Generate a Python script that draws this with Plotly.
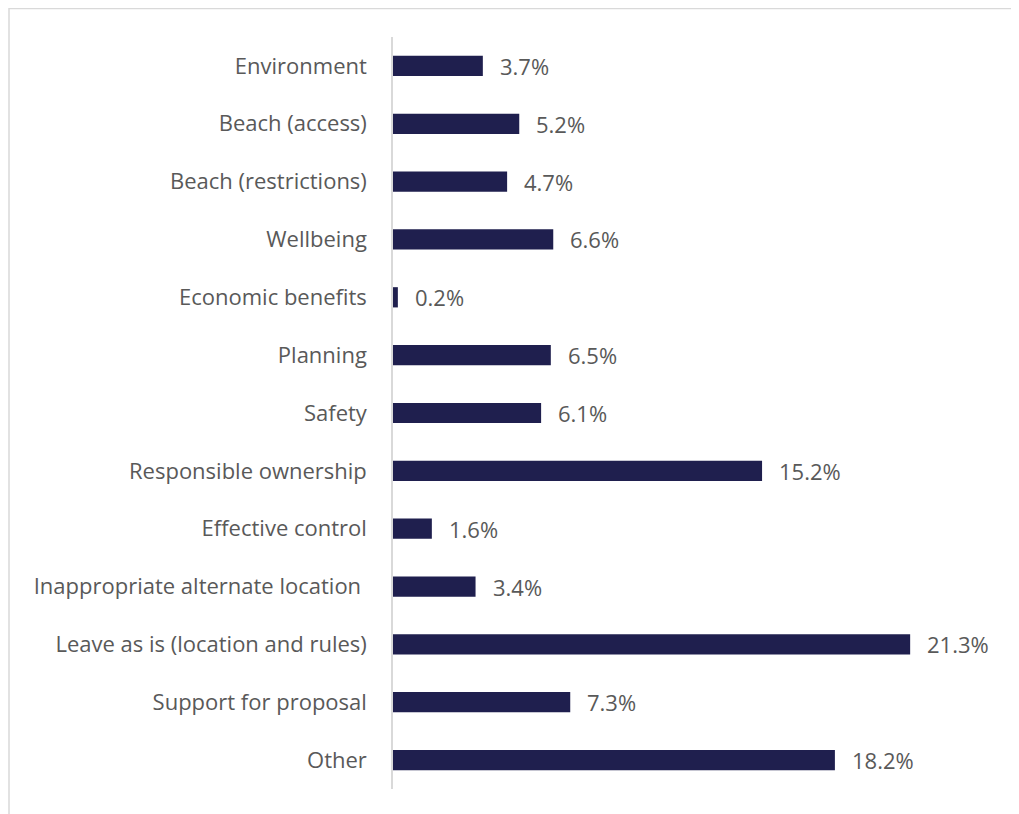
import plotly.graph_objects as go

categories = [
    "Environment",
    "Beach (access)",
    "Beach (restrictions)",
    "Wellbeing",
    "Economic benefits",
    "Planning",
    "Safety",
    "Responsible ownership",
    "Effective control",
    "Inappropriate alternate location\u00a0",
    "Leave as is (location and rules)",
    "Support for proposal",
    "Other",
]
values = [3.7, 5.2, 4.7, 6.6, 0.2, 6.5, 6.1, 15.2, 1.6, 3.4, 21.3, 7.3, 18.2]
labels = [f"{v:.1f}%" for v in values]

bar_color = "#1f1f4e"
text_color = "#595959"
font_family = "Open Sans, Noto Sans, sans-serif"

W, H = 1011, 806
ML, MR, MT, MB = 385, 19, 29, 25
PW, PH = W - ML - MR, H - MT - MB

fig = go.Figure()
fig.add_trace(go.Bar(
    y=categories,
    x=values,
    orientation="h",
    marker=dict(color=bar_color, line=dict(width=0)),
    width=0.35,
    hoverinfo="skip",
))

for c, v, t in zip(categories, values, labels):
    fig.add_annotation(
        x=v, y=c, text=t, showarrow=False, xanchor="left", yanchor="middle",
        xshift=15, font=dict(size=22, color=text_color, family=font_family),
    )

fig.update_layout(
    width=W, height=H,
    margin=dict(l=ML, r=MR, t=MT, b=MB),
    paper_bgcolor="white",
    plot_bgcolor="white",
    showlegend=False,
    font=dict(family=font_family, color=text_color, size=22),
    shapes=[dict(type="rect", xref="paper", yref="paper",
                 x0=-(ML - 1) / PW, x1=1.5, y0=-0.5, y1=1 + (MT - 0.5) / PH,
                 line=dict(color="#d9d9d9", width=1.5), layer="below")],
)
fig.update_xaxes(range=[0, 25], visible=False, fixedrange=True)
fig.update_yaxes(
    autorange="reversed",
    showline=True, linecolor="#d9d9d9", linewidth=1.5,
    ticks="", ticklabelstandoff=20,
    tickfont=dict(size=22, color=text_color, family=font_family),
    showgrid=False,
)

fig.write_html("out.html")
